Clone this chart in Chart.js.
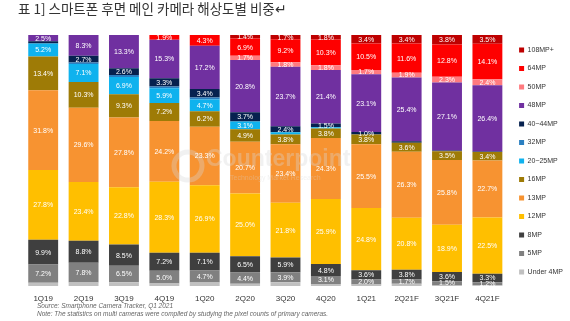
<!DOCTYPE html>
<html>
<head>
<meta charset="utf-8">
<script src="https://cdn.jsdelivr.net/npm/chart.js@4/dist/chart.umd.min.js"></script>
<style>
  html, body { margin: 0; padding: 0; background: #fff; }
  #wrap { width: 570px; height: 321px; position: relative; }
  #title {
    position: absolute; left: 18px; top: -2px;
    font: 13.5px 'Noto Sans CJK KR', sans-serif; color: #333; white-space: nowrap;
  }
  #notes {
    position: absolute; left: 37px; top: 302px;
    font: italic 6.5px 'Liberation Sans', Arial, sans-serif; color: #666; line-height: 8px; white-space: nowrap;
  }
</style>
</head>
<body>
<div id="wrap">
  <canvas id="c"></canvas>
  <div id="title">표 1] 스마트폰 후면 메인 카메라 해상도별 비중↵</div>
  <div id="notes">Source: Smartphone Camera Tracker, Q1 2021<br>Note: The statistics on multi cameras were compiled by studying the pixel counts of primary cameras.</div>
</div>
<script>
const categories = ["1Q19", "2Q19", "3Q19", "4Q19", "1Q20", "2Q20", "3Q20", "4Q20", "1Q21", "2Q21F", "3Q21F", "4Q21F"];

// share of each resolution, bottom to top (%)
const under4MP = [1.3, 1.4, 1.5, 1.0, 1.4, 0.9, 1.5, 0.8, 0.6, 0.9, 0.4, 0.3];
const mp5 = [7.2, 7.8, 6.5, 5.0, 4.7, 4.4, 3.9, 3.1, 2.0, 1.7, 1.5, 1.2];
const mp8 = [9.9, 8.8, 8.5, 7.2, 7.1, 6.5, 5.9, 4.8, 3.6, 3.8, 3.6, 3.3];
const mp12 = [27.8, 23.4, 22.8, 28.3, 26.9, 25.0, 21.8, 25.9, 24.8, 20.8, 18.9, 22.5];
const mp13 = [31.8, 29.6, 27.8, 24.2, 23.3, 20.7, 23.4, 24.3, 25.5, 26.3, 25.8, 22.7];
const mp16 = [13.4, 10.3, 9.3, 7.2, 6.2, 4.9, 3.8, 3.8, 3.8, 3.6, 3.5, 3.4];
const mp20 = [5.2, 7.1, 6.9, 5.9, 4.7, 3.1, 0.9, 0.5, 0, 0, 0, 0];
const mp32 = [0, 0.6, 0.8, 0.7, 0.8, 0, 0, 0, 0, 0, 0, 0];
const mp40 = [0.9, 2.7, 2.6, 3.3, 3.4, 3.7, 2.4, 1.5, 1.0, 0.6, 0.3, 0.2];
const mp48 = [2.5, 8.3, 13.3, 15.3, 17.2, 20.8, 23.7, 21.4, 23.1, 25.4, 27.1, 26.4];
const mp50 = [0, 0, 0, 0, 0, 1.7, 1.8, 1.8, 1.7, 1.9, 2.3, 2.4];
const mp64 = [0, 0, 0, 1.9, 4.3, 6.9, 9.2, 10.3, 10.5, 11.6, 12.8, 14.1];
const mp108 = [0, 0, 0, 0, 0, 1.4, 1.7, 1.8, 3.4, 3.4, 3.8, 3.5];

const seriesNames = ["Under 4MP", "5MP", "8MP", "12MP", "13MP", "16MP", "20~25MP", "32MP", "40~44MP", "48MP", "50MP", "64MP", "108MP+"];
const seriesData = [under4MP, mp5, mp8, mp12, mp13, mp16, mp20, mp32, mp40, mp48, mp50, mp64, mp108];
const seriesColors = ["#c0c0c0", "#808080", "#3f3f3f", "#ffbf00", "#f79331", "#9e7b06", "#0fb2ee", "#2a7fc1", "#06214f", "#7030a0", "#ff7a7f", "#fe0000", "#be0000"];
const noLabel = ["Under 4MP", "32MP"];

// faint watermark behind the value labels
const watermark = {
  id: "watermark",
  afterDatasetsDraw(chart) {
    const ctx = chart.ctx;
    ctx.save();
    ctx.globalAlpha = 0.35;
    ctx.strokeStyle = "#d8d8d8";
    ctx.lineWidth = 5;
    ctx.beginPath();
    ctx.arc(188, 166, 14, 0, Math.PI * 2);
    ctx.stroke();
    ctx.fillStyle = "#d8d8d8";
    ctx.font = "bold 23px 'Liberation Sans', Arial, sans-serif";
    ctx.textBaseline = "middle";
    ctx.fillText("Counterpoint", 206, 160);
    ctx.font = "7px 'Liberation Sans', Arial, sans-serif";
    ctx.fillText("Technology Market Research", 230, 178);
    ctx.restore();
  },
};

const segmentLabels = {
  id: "segmentLabels",
  afterDatasetsDraw(chart) {
    const ctx = chart.ctx;
    ctx.save();
    ctx.font = "7px 'Liberation Sans', Arial, sans-serif";
    ctx.fillStyle = "#ffffff";
    ctx.textAlign = "center";
    ctx.textBaseline = "middle";
    chart.data.datasets.forEach((ds, i) => {
      if (noLabel.includes(ds.label)) return;
      const meta = chart.getDatasetMeta(i);
      meta.data.forEach((bar, j) => {
        const v = ds.data[j];
        if (v < 1) return;
        ctx.fillText(v.toFixed(1) + "%", bar.x, (bar.y + bar.base) / 2 + 0.5);
      });
    });
    ctx.restore();
  },
};

const datasets = seriesData.map((data, i) => ({
  label: seriesNames[i],
  data: data,
  backgroundColor: seriesColors[i],
  borderWidth: 0,
  barPercentage: 0.74,
  categoryPercentage: 1,
}));

new Chart(document.getElementById("c").getContext("2d"), {
  type: "bar",
  data: { labels: categories, datasets: datasets },
  plugins: [watermark, segmentLabels],
  options: {
    responsive: true,
    maintainAspectRatio: false,
    animation: false,
    layout: { padding: { left: 23, right: -3, top: 35, bottom: 17.5 } },
    scales: {
      x: {
        stacked: true,
        grid: { display: false },
        border: { display: false },
        ticks: {
          color: "#333",
          padding: 0,
          maxRotation: 0,
          font: { size: 8, family: "'Liberation Sans', Arial, sans-serif" },
        },
      },
      y: {
        stacked: true,
        display: false,
        min: 0,
        max: 100,
      },
    },
    plugins: {
      tooltip: { enabled: false },
      title: { display: false },
      legend: {
        position: "right",
        align: "start",
        reverse: true,
        labels: {
          boxWidth: 5,
          boxHeight: 5,
          padding: 11.5,
          color: "#333",
          font: { size: 7, family: "'Liberation Sans', Arial, sans-serif" },
        },
      },
    },
  },
});
</script>
</body>
</html>
